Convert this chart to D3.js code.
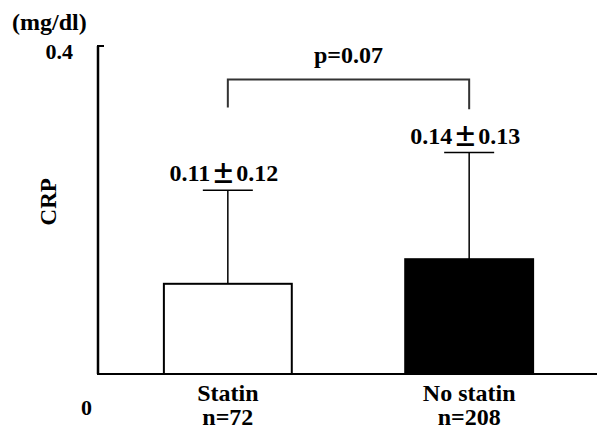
<!DOCTYPE html>
<html>
<head>
<meta charset="utf-8">
<script src="https://cdn.jsdelivr.net/npm/d3@7"></script>
<style>
  body { margin: 0; background: #fff; }
</style>
</head>
<body>
<div id="chart-area"></div>
<script>
// CRP by statin use
var groups = ["Statin", "No statin"];
var counts = ["n=72", "n=208"];
var means = [0.11, 0.14];
var errs = [0.114, 0.13];          // drawn error length
var meanLabels = ["0.11", "0.14"];
var sdLabels = ["0.12", "0.13"];
var fills = ["#fff", "#000"];
var tickValues = [0, 0.4];
var pText = "p=0.07";

var width = 597, height = 429;
var serif = "'Liberation Serif', 'Times New Roman', Times, 'DejaVu Serif', serif";

var svg = d3.select("#chart-area")
    .append("svg")
    .attr("width", width)
    .attr("height", height)
    .attr("font-family", serif)
    .attr("font-weight", "bold");

var y = d3.scaleLinear()
    .domain([0, 0.4])
    .range([374, 46]);

var x = d3.scaleBand()
    .domain(groups)
    .range([98, 599])
    .paddingInner(0.47)
    .paddingOuter(0.273);

// y axis line + top tick
svg.append("line")
    .attr("x1", 98).attr("x2", 98)
    .attr("y1", y(0.4)).attr("y2", y(0))
    .attr("stroke", "#000").attr("stroke-width", 2.5);

svg.append("line")
    .attr("x1", 97).attr("x2", 104)
    .attr("y1", y(0.4)).attr("y2", y(0.4))
    .attr("stroke", "#000").attr("stroke-width", 2);

// tick labels (placed a bit below the tick like the original)
svg.selectAll(".ticklabel")
    .data(tickValues)
    .enter().append("text")
    .attr("class", "ticklabel")
    .attr("text-anchor", "end")
    .attr("x", function(d) { return d === 0 ? 92 : 73; })
    .attr("y", function(d) { return d === 0 ? y(d) + 41 : y(d) + 13; })
    .attr("font-size", 22)
    .text(function(d) { return d === 0 ? "0" : d3.format(".1f")(d); });

svg.append("text")
    .attr("x", 12).attr("y", 30)
    .attr("font-size", 24)
    .text("(mg/dl)");

svg.append("text")
    .attr("transform", "translate(56," + y(0.21) + ") rotate(-90)")
    .attr("text-anchor", "middle")
    .attr("font-size", 23)
    .text("CRP");

// bars
svg.selectAll(".bar")
    .data(groups)
    .enter().append("rect")
    .attr("class", "bar")
    .attr("x", function(d) { return x(d); })
    .attr("y", function(d, i) { return y(means[i]); })
    .attr("width", x.bandwidth())
    .attr("height", function(d, i) { return y(0) - y(means[i]); })
    .attr("fill", function(d, i) { return fills[i]; })
    .attr("stroke", "#000")
    .attr("stroke-width", 2);

// error bars
var cx = function(d) { return x(d) + x.bandwidth() / 2; };

svg.selectAll(".err")
    .data(groups)
    .enter().append("line")
    .attr("class", "err")
    .attr("x1", cx).attr("x2", cx)
    .attr("y1", function(d, i) { return y(means[i]); })
    .attr("y2", function(d, i) { return y(means[i] + errs[i]); })
    .attr("stroke", "#000").attr("stroke-width", 1.5);

svg.selectAll(".cap")
    .data(groups)
    .enter().append("line")
    .attr("class", "cap")
    .attr("x1", function(d) { return cx(d) - 25; })
    .attr("x2", function(d) { return cx(d) + 25; })
    .attr("y1", function(d, i) { return y(means[i] + errs[i]); })
    .attr("y2", function(d, i) { return y(means[i] + errs[i]); })
    .attr("stroke", "#000").attr("stroke-width", 1.5);

// mean ± sd labels, wide full-width ± sign
var lab = svg.selectAll(".errlabel")
    .data(groups)
    .enter().append("text")
    .attr("class", "errlabel")
    .attr("text-anchor", "middle")
    .attr("x", function(d) { return cx(d) - 4; })
    .attr("y", function(d, i) { return y(means[i] + errs[i]) - 9; })
    .attr("font-size", 24);

lab.append("tspan").text(function(d, i) { return meanLabels[i]; });
lab.append("tspan")
    .attr("font-family", "'Noto Sans CJK JP', sans-serif")
    .attr("font-weight", "900")
    .attr("dx", 1)
    .attr("dy", 2)
    .text("\u00b1");
lab.append("tspan")
    .attr("dx", 1)
    .attr("dy", -2)
    .text(function(d, i) { return sdLabels[i]; });

// baseline
svg.append("line")
    .attr("x1", 97).attr("x2", width)
    .attr("y1", y(0)).attr("y2", y(0))
    .attr("stroke", "#000").attr("stroke-width", 2);

// category labels
svg.selectAll(".cat")
    .data(groups)
    .enter().append("text")
    .attr("class", "cat")
    .attr("text-anchor", "middle")
    .attr("x", cx)
    .attr("y", y(0) + 27)
    .attr("font-size", 24)
    .text(function(d) { return d; });

svg.selectAll(".cnt")
    .data(groups)
    .enter().append("text")
    .attr("class", "cnt")
    .attr("text-anchor", "middle")
    .attr("x", cx)
    .attr("y", y(0) + 51)
    .attr("font-size", 24)
    .text(function(d, i) { return counts[i]; });

// significance bracket
var bracketY = y(0.359);
svg.append("path")
    .attr("d", "M" + cx(groups[0]) + "," + y(0.325) +
               "V" + bracketY +
               "H" + cx(groups[1]) +
               "V" + y(0.323))
    .attr("fill", "none")
    .attr("stroke", "#333")
    .attr("stroke-width", 2);

svg.append("text")
    .attr("text-anchor", "middle")
    .attr("x", (cx(groups[0]) + cx(groups[1])) / 2)
    .attr("y", bracketY - 17)
    .attr("font-size", 24)
    .text(pText);
</script>
</body>
</html>
